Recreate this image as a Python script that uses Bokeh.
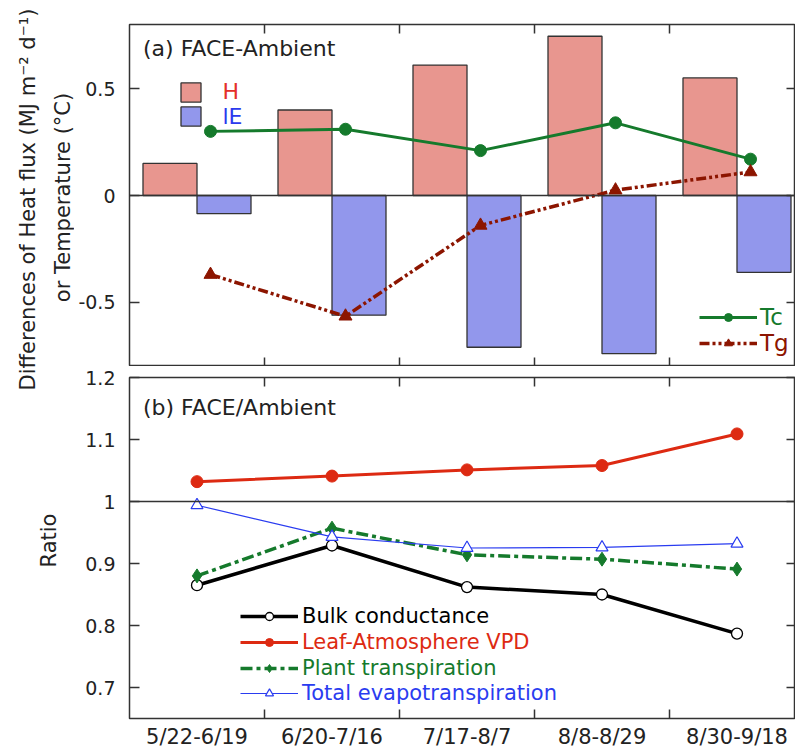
import numpy as np
from bokeh.plotting import figure
from bokeh.models import (Range1d, FixedTicker, LinearAxis, Span, Label, Legend, LegendItem)
from bokeh.layouts import column, row
from bokeh.embed import file_html
from bokeh.resources import INLINE

# ---------------- data ----------------
periods = ["5/22-6/19", "6/20-7/16", "7/17-8/7", "8/8-8/29", "8/30-9/18"]
# (a) FACE - Ambient
H_diff = [0.15, 0.40, 0.61, 0.745, 0.55]
lE_diff = [-0.085, -0.56, -0.71, -0.74, -0.36]
Tc_diff = [0.30, 0.31, 0.21, 0.34, 0.17]
Tg_diff = [-0.37, -0.565, -0.14, 0.025, 0.11]
# (b) FACE / Ambient
bulk_ratio = [0.865, 0.929, 0.862, 0.850, 0.787]
vpd_ratio = [1.032, 1.041, 1.051, 1.058, 1.109]
plant_ratio = [0.880, 0.957, 0.914, 0.907, 0.891]
total_ratio = [0.994, 0.943, 0.925, 0.926, 0.932]

top_ticks = [-0.5, 0, 0.5]
top_tick_labels = ["-0.5", "0", "0.5"]
bot_ticks = [0.7, 0.8, 0.9, 1, 1.1, 1.2]
bot_tick_labels = ["0.7", "0.8", "0.9", "1", "1.1", "1.2"]

top_ylabel_1 = "Differences of Heat flux (MJ m\u207b\u00b2 d\u207b\u00b9)"
top_ylabel_2 = "or Temperature (\u00b0C)"
bot_ylabel = "Ratio"

# ---------------- style / layout ----------------
FONT = "DejaVu Sans"
INK = "#222222"
FRAME = "#333333"
GREEN = "#157a2c"
DRED = "#8c1500"
RED = "#dd2a12"
BLUE = "#2a3cf0"
H_FILL = "#e8968f"
E_FILL = "#9297ec"

PAGE_W, PAGE_H = 795, 751
STRIP_W = 74                 # left strip holding the y-axis titles
W = PAGE_W - STRIP_W
LEFT = 129 - STRIP_W         # frame left edge at x = 129
FRAME_W = W - LEFT
BAND_PX = 135.0
X_END = FRAME_W / BAND_PX

TOP_BT, TOP_FH, TOP_BB = 24, 342, 0
BOT_BT, BOT_FH, BOT_BB = 11, 342, 32
TOP_FB = TOP_BT + TOP_FH                       # page y of top frame bottom
BOT_FB = TOP_FB + TOP_BB + BOT_BT + BOT_FH     # page y of bottom frame bottom

idx = np.arange(len(periods))
x_H = idx + 0.3
x_E = idx + 0.7
x_T = idx + 0.6
x_B = idx + 0.5
centers = [float(c) for c in x_B]
bounds = [1, 2, 3, 4]

xr = Range1d(0, X_END)


def make_fig(height, y0, y1, btop, bbot):
    p = figure(width=W, height=height, x_range=xr, y_range=Range1d(y0, y1),
               output_backend="svg", toolbar_location=None,
               x_axis_location=None, y_axis_location=None,
               min_border_left=LEFT, min_border_right=0,
               min_border_top=btop, min_border_bottom=bbot)
    p.xgrid.visible = False
    p.ygrid.visible = False
    p.outline_line_color = FRAME
    p.outline_line_width = 1.5
    p.background_fill_color = "white"
    p.border_fill_color = "white"
    return p


def tick_only_axis(ticks, tick_len=9):
    return LinearAxis(ticker=FixedTicker(ticks=[], minor_ticks=ticks),
                      minor_tick_in=tick_len, minor_tick_out=0,
                      major_tick_in=0, major_tick_out=0,
                      major_label_standoff=0, axis_line_color=None,
                      minor_tick_line_color=FRAME, minor_tick_line_width=1.5)


def left_axis(ticks, labels):
    return LinearAxis(ticker=FixedTicker(ticks=ticks),
                      major_label_overrides={t: l for t, l in zip(ticks, labels)},
                      major_tick_in=10, major_tick_out=0,
                      major_tick_line_color=FRAME, major_tick_line_width=1.5,
                      axis_line_color=None, major_label_standoff=14,
                      major_label_text_font=FONT, major_label_text_font_size="19px",
                      major_label_text_color=INK)


def add_legend(p, label, renderers, color, vx, vy, gw, gh, lh, standoff, fs):
    leg = Legend(items=[LegendItem(label=label, renderers=renderers)],
                 location=(vx, vy), orientation="vertical",
                 padding=0, margin=0, spacing=0,
                 glyph_width=gw, glyph_height=gh, label_height=lh,
                 label_standoff=standoff,
                 label_text_font=FONT, label_text_font_size=fs,
                 label_text_color=color,
                 border_line_alpha=0, background_fill_alpha=0)
    p.add_layout(leg)


# ---------------- left strip with the axis titles ----------------
strip = figure(width=STRIP_W, height=PAGE_H, x_range=Range1d(0, STRIP_W),
               y_range=Range1d(0, PAGE_H), output_backend="svg", toolbar_location=None,
               x_axis_location=None, y_axis_location=None,
               min_border_left=0, min_border_right=0, min_border_top=0, min_border_bottom=0)
strip.xgrid.visible = False
strip.ygrid.visible = False
strip.outline_line_color = None
strip.background_fill_color = "white"
strip.border_fill_color = "white"
for txt, px, py, fs in [(top_ylabel_1, 27, 199, "21px"),
                        (top_ylabel_2, 62, 197, "21px"),
                        (bot_ylabel, 48, 540, "21px")]:
    strip.add_layout(Label(x=px, y=PAGE_H - py, text=txt, angle=90, angle_units="deg",
                           text_align="center", text_baseline="middle",
                           text_font=FONT, text_font_size=fs, text_color=INK))

# ---------------- (a) ----------------
top = make_fig(TOP_BT + TOP_FH + TOP_BB, -0.8, 0.8, TOP_BT, TOP_BB)
top.add_layout(left_axis(top_ticks, top_tick_labels), "left")
top.add_layout(tick_only_axis(top_ticks, 9), "right")
top.add_layout(tick_only_axis(bounds), "above")
top.add_layout(tick_only_axis(bounds), "below")

top.add_layout(Span(location=0, dimension="width", line_color=FRAME, line_width=1.3))
rH = top.vbar(x=x_H, top=H_diff, bottom=0, width=0.4, fill_color=H_FILL,
              line_color=FRAME, line_width=1.3)
rE = top.vbar(x=x_E, top=lE_diff, bottom=0, width=0.4, fill_color=E_FILL,
              line_color=FRAME, line_width=1.3)
rTc_l = top.line(x_T, Tc_diff, line_color=GREEN, line_width=3)
rTc_s = top.scatter(x_T, Tc_diff, marker="circle", size=12, fill_color=GREEN, line_color=GREEN)
rTg_l = top.line(x_T, Tg_diff, line_color=DRED, line_width=3.5, line_dash="10 3 3 3 3 3")
rTg_s = top.scatter(x_T, Tg_diff, marker="triangle", size=13, fill_color=DRED, line_color=DRED)

top.add_layout(Label(x=0.1, y=0.69, text="(a) FACE-Ambient", text_baseline="middle",
                     text_font=FONT, text_font_size="22px", text_color=INK))

add_legend(top, "H", [rH], "#e4302a", 48.5, TOP_FB - 104.5, 25, 24, 26, 20, "22px")
add_legend(top, "lE", [rE], "#2b3aee", 48.5, TOP_FB - 129, 25, 24, 26, 20, "22px")
add_legend(top, "Tc", [rTc_l, rTc_s], GREEN, 570, TOP_FB - 330.5, 58, 20, 27, 3, "23px")
add_legend(top, "Tg", [rTg_l, rTg_s], DRED, 570, TOP_FB - 356.5, 58, 20, 27, 3, "23px")

# ---------------- (b) ----------------
bot = make_fig(BOT_BT + BOT_FH + BOT_BB, 0.65, 1.2, BOT_BT, BOT_BB)
bot.add_layout(left_axis(bot_ticks, bot_tick_labels), "left")
bot.add_layout(tick_only_axis(bot_ticks, 9), "right")
bot.add_layout(tick_only_axis(bounds), "above")
xax = LinearAxis(ticker=FixedTicker(ticks=centers, minor_ticks=bounds),
                 major_label_overrides={c: s for c, s in zip(centers, periods)},
                 major_tick_in=0, major_tick_out=0,
                 minor_tick_in=9, minor_tick_out=0,
                 minor_tick_line_color=FRAME, minor_tick_line_width=1.5,
                 axis_line_color=None, major_label_standoff=6,
                 major_label_text_font=FONT, major_label_text_font_size="21px",
                 major_label_text_color=INK)
bot.add_layout(xax, "below")

bot.add_layout(Span(location=1, dimension="width", line_color=FRAME, line_width=1.3))
rB_l = bot.line(x_B, bulk_ratio, line_color="black", line_width=3.5)
rB_s = bot.scatter(x_B, bulk_ratio, marker="circle", size=11, fill_color="white",
                   line_color="black", line_width=1.3)
rV_l = bot.line(x_B, vpd_ratio, line_color=RED, line_width=3)
rV_s = bot.scatter(x_B, vpd_ratio, marker="circle", size=12, fill_color=RED, line_color=RED)
rP_l = bot.line(x_B, plant_ratio, line_color=GREEN, line_width=3.5, line_dash="12 4 4 4")
rP_s = bot.scatter(x_B, plant_ratio, marker="diamond", size=14, fill_color=GREEN, line_color=GREEN)
rT_l = bot.line(x_B, total_ratio, line_color=BLUE, line_width=1.2)
rT_s = bot.scatter(x_B, total_ratio, marker="triangle", size=12, fill_color="white",
                   line_color=BLUE, line_width=1.2)

bot.add_layout(Label(x=0.1, y=1.152, text="(b) FACE/Ambient", text_baseline="middle",
                     text_font=FONT, text_font_size="22px", text_color=INK))

add_legend(bot, "Bulk conductance", [rB_l, rB_s], "black", 111, BOT_FB - 629.5, 58, 20, 25, 4, "21px")
add_legend(bot, "Leaf-Atmosphere VPD", [rV_l, rV_s], RED, 111, BOT_FB - 655.5, 58, 20, 25, 4, "21px")
add_legend(bot, "Plant transpiration", [rP_l, rP_s], GREEN, 111, BOT_FB - 681.5, 58, 20, 25, 4, "21px")
add_legend(bot, "Total evapotranspiration", [rT_l, rT_s], BLUE, 111, BOT_FB - 706.5, 58, 20, 25, 4, "21px")

layout = row(strip, column(top, bot, spacing=0), spacing=0)
open("out.html", "w").write(file_html(layout, INLINE, "FACE heat flux"))
